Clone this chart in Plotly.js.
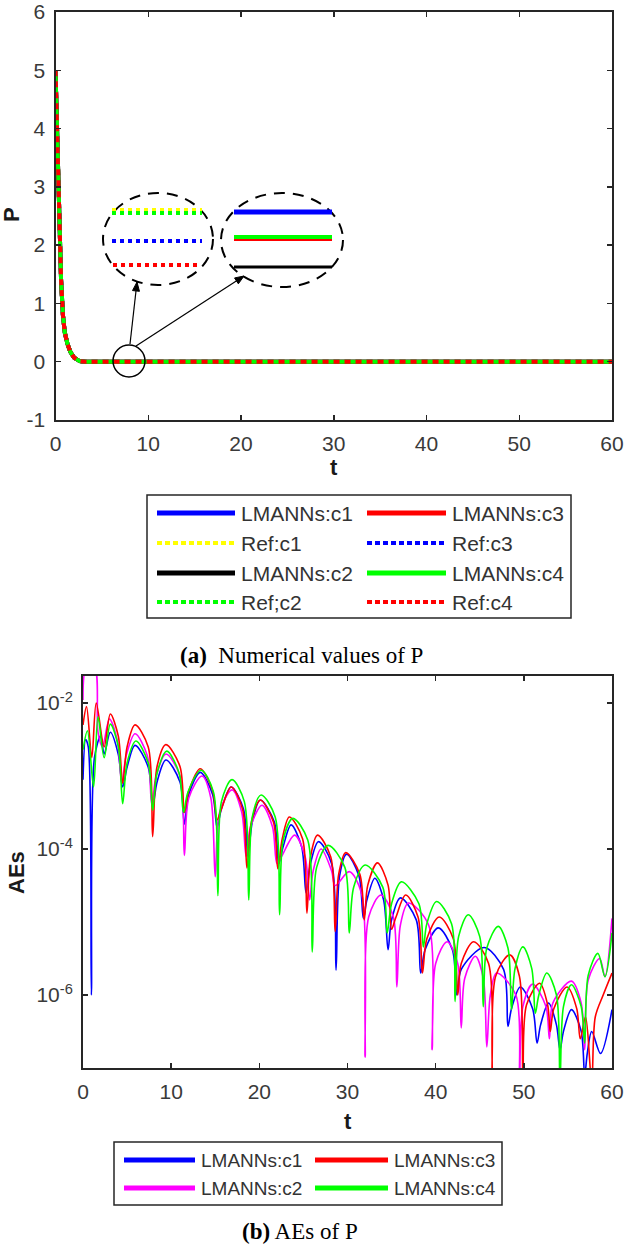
<!DOCTYPE html>
<html>
<head>
<meta charset="utf-8">
<script src="https://cdn.plot.ly/plotly-3.0.1.min.js"></script>
<style>html,body{margin:0;padding:0;background:#fff;}#chart{width:629px;height:1254px;}</style>
</head>
<body>
<div id="chart"></div>
<script>
// ---------- (a) numerical values of P ----------
const tP = [0, 0.15, 0.3, 0.45, 0.6, 0.8, 1.0, 1.3, 1.6, 2.0, 2.6, 3.2, 60];
const pRef = [5, 4.0, 3.0, 2.2, 1.4, 0.8, 0.5, 0.3, 0.17, 0.07, 0.01, 0, 0];
const topNames = ["LMANNs:c1", "Ref:c1", "LMANNs:c2", "Ref;c2", "LMANNs:c3", "Ref:c3", "LMANNs:c4", "Ref:c4"];
const pTickVals = [-1, 0, 1, 2, 3, 4, 5, 6];
const pTickText = ["-1", "0", "1", "2", "3", "4", "5", "6"];

// ---------- (b) absolute errors of P ----------
const tC1 = [0, 0.3, 0.6, 0.95, 1.3, 2.0, 2.4, 3.1, 4.0, 4.5, 5.0, 5.9, 7.4, 7.9, 8.4, 9.4, 11.0, 11.5, 12.0, 13.3, 14.7, 15.2, 15.7, 16.8, 18.2, 18.7, 19.2, 20.1, 21.7, 22.2, 22.7, 23.6, 24.8, 25.3, 25.8, 26.7, 28.2, 28.7, 29.1, 29.9, 31.3, 31.8, 32.2, 33.1, 34.1, 34.6, 35.0, 36.0, 37.8, 38.3, 38.8, 40.3, 41.9, 42.4, 42.9, 45.5, 47.7, 48.2, 48.6, 49.6, 51.0, 51.5, 51.9, 52.8, 53.7, 54.1, 54.5, 55.4, 56.5, 56.9, 57.2, 57.7, 58.7, 60];
const aeC1 = [8.9e-4, 3.16e-3, 2.51e-3, 1.0e-6, 1.78e-3, 3.55e-3, 2.0e-3, 3.98e-3, 1.99e-3, 7.08e-4, 1.32e-3, 2.63e-3, 1.32e-3, 3.8e-4, 8.3e-4, 1.66e-3, 8.3e-4, 2.19e-4, 5.6e-4, 1.12e-3, 5.6e-4, 2.0e-4, 3.54e-4, 7.08e-4, 3.54e-4, 7.94e-5, 2.34e-4, 4.68e-4, 2.34e-4, 6.31e-5, 1.07e-4, 2.14e-4, 1.07e-4, 2.51e-5, 6.3e-5, 1.26e-4, 6.3e-5, 2.19e-6, 4.26e-5, 8.51e-5, 4.26e-5, 1.12e-5, 2.0e-5, 3.98e-5, 2.0e-5, 4.17e-6, 1.07e-5, 2.14e-5, 1.07e-5, 2.0e-6, 4.16e-6, 8.32e-6, 4.16e-6, 1.0e-6, 2.24e-6, 4.47e-6, 2.24e-6, 3.72e-7, 6.5e-7, 1.29e-6, 6.5e-7, 2.19e-7, 3.9e-7, 7.76e-7, 3.9e-7, 1.78e-7, 3.2e-7, 6.31e-7, 3.2e-7, 7.94e-8, 1.6e-7, 3.16e-7, 1.58e-7, 6.31e-7];

const tC2 = [0, 0.4, 1.3, 1.7, 2.2, 3.0, 3.9, 4.4, 4.9, 5.9, 7.3, 7.8, 8.3, 9.4, 11.0, 11.5, 12.0, 13.5, 14.5, 15.0, 15.5, 16.9, 18.0, 18.5, 19.0, 20.3, 21.5, 22.0, 22.5, 24.0, 25.2, 25.7, 26.1, 27.0, 28.2, 28.6, 30.2, 31.6, 32.0, 32.4, 33.8, 35.2, 35.6, 36.0, 36.9, 39.2, 39.6, 40.0, 41.3, 42.5, 42.9, 43.3, 44.5, 45.4, 45.8, 46.2, 46.9, 49.1, 49.5, 49.9, 51.0, 52.5, 52.9, 53.3, 55.4, 56.5, 56.9, 57.3, 58.6, 59.2, 60];
const aeC2 = [1.1e-2, 3.16e-2, 3.16e-2, 3.98e-3, 2.51e-3, 6.03e-3, 3.0e-3, 7.94e-4, 1.9e-3, 3.8e-3, 1.9e-3, 4.07e-4, 1.0e-3, 2.0e-3, 1.0e-3, 8.13e-5, 5.0e-4, 1.0e-3, 5.0e-4, 4.17e-5, 3.2e-4, 6.46e-4, 3.2e-4, 7.94e-5, 2.0e-4, 3.98e-4, 2.0e-4, 6.31e-5, 7.8e-5, 1.55e-4, 7.8e-5, 2.0e-5, 5.0e-5, 1.0e-4, 5.0e-5, 3.16e-5, 4.9e-5, 2.45e-5, 1.41e-7, 1.17e-5, 2.34e-5, 1.17e-5, 1.29e-6, 9.1e-6, 1.82e-5, 9.1e-6, 1.78e-7, 2.7e-6, 5.37e-6, 2.7e-6, 3.55e-7, 1.7e-6, 3.39e-6, 1.7e-6, 1.95e-7, 1.0e-6, 2.0e-6, 1.0e-6, 6.31e-8, 7.0e-7, 1.41e-6, 7.0e-7, 2.51e-7, 7.8e-7, 1.55e-6, 7.8e-7, 1.78e-7, 1.6e-6, 3.16e-6, 1.78e-6, 1.12e-5];

const tC3 = [0, 0.4, 1.0, 1.5, 2.4, 3.1, 4.0, 4.5, 5.0, 5.9, 7.4, 7.9, 8.4, 9.4, 11.0, 11.5, 12.0, 13.3, 14.7, 15.2, 15.7, 16.8, 18.1, 18.6, 19.1, 20.1, 21.6, 22.1, 22.6, 23.4, 24.9, 25.4, 25.8, 26.6, 28.1, 28.6, 29.0, 29.8, 31.4, 31.9, 32.3, 33.4, 34.6, 35.0, 35.5, 36.6, 38.0, 38.5, 39.0, 40.4, 42.0, 42.5, 42.9, 44.3, 46.0, 46.4, 46.8, 48.4, 49.5, 49.9, 50.3, 51.8, 52.7, 53.0, 53.4, 54.9, 56.0, 56.4, 57.0, 57.7, 58.1, 59.0, 60];
const aeC3 = [5.01e-3, 8.91e-3, 1.78e-3, 1.0e-2, 2.51e-3, 7.08e-3, 3.54e-3, 7.94e-4, 2.5e-3, 5.01e-3, 2.5e-3, 1.48e-4, 1.35e-3, 2.69e-3, 1.35e-3, 3.16e-4, 6.3e-4, 1.26e-3, 6.3e-4, 2.51e-4, 3.54e-4, 7.08e-4, 3.54e-4, 5.5e-5, 2.34e-4, 4.68e-4, 2.34e-4, 5.37e-5, 1.38e-4, 2.75e-4, 1.38e-4, 1.32e-5, 7.8e-5, 1.55e-4, 7.8e-5, 7.41e-6, 4.5e-5, 8.91e-5, 4.5e-5, 1.07e-5, 3.2e-5, 6.46e-5, 3.2e-5, 7.94e-6, 1.17e-5, 2.34e-5, 1.17e-5, 2.0e-6, 5.9e-6, 1.17e-5, 5.9e-6, 1.0e-6, 2.7e-6, 5.37e-6, 2.7e-6, 6.31e-8, 1.8e-6, 3.55e-6, 1.8e-6, 6.31e-8, 7.3e-7, 1.45e-6, 7.3e-7, 3.16e-7, 6.5e-7, 1.29e-6, 6.5e-7, 2.51e-7, 5.01e-7, 6.31e-8, 5.0e-7, 1.0e-6, 2.0e-6];

const tC4 = [0, 0.5, 1.2, 1.7, 2.4, 3.1, 4.0, 4.5, 5.0, 6.0, 7.4, 7.9, 8.4, 9.5, 10.9, 11.4, 11.9, 13.4, 14.8, 15.3, 15.7, 16.9, 18.3, 18.8, 19.2, 20.2, 21.8, 22.3, 22.7, 23.8, 25.5, 26.0, 26.5, 27.8, 29.7, 30.2, 30.7, 32.0, 34.0, 34.5, 35.0, 36.1, 38.1, 38.6, 39.0, 40.1, 41.8, 42.2, 42.6, 43.7, 45.0, 45.4, 45.8, 47.1, 48.2, 48.6, 49.0, 49.9, 50.9, 51.3, 51.7, 52.6, 53.7, 54.1, 54.5, 55.4, 56.5, 56.9, 57.3, 58.4, 59.2, 60];
const aeC4 = [2.29e-3, 4.17e-3, 7.08e-4, 6.46e-3, 1.78e-3, 5.13e-3, 2.57e-3, 4.17e-4, 1.51e-3, 3.02e-3, 1.51e-3, 3.39e-4, 1.1e-3, 2.19e-3, 1.1e-3, 3.16e-4, 6.0e-4, 1.2e-3, 6.0e-4, 2.29e-5, 4.46e-4, 8.91e-4, 4.46e-4, 2.0e-5, 2.75e-4, 5.5e-4, 2.75e-4, 1.26e-5, 1.32e-4, 2.63e-4, 1.32e-4, 3.89e-6, 5.6e-5, 1.12e-4, 5.6e-5, 7.08e-6, 3.0e-5, 6.03e-5, 3.0e-5, 7.08e-6, 1.78e-5, 3.55e-5, 1.78e-5, 4.57e-6, 9.5e-6, 1.91e-5, 9.5e-6, 8.13e-7, 6.3e-6, 1.26e-5, 6.3e-6, 6.92e-7, 4.4e-6, 8.71e-6, 4.4e-6, 6.31e-7, 2.3e-6, 4.57e-6, 2.3e-6, 5.62e-7, 1.0e-6, 2.0e-6, 1.0e-6, 6.31e-8, 7.0e-7, 1.38e-6, 7.0e-7, 2.19e-7, 1.86e-6, 3.72e-6, 1.78e-6, 7.08e-6];

const botNames = ["LMANNs:c1", "LMANNs:c2", "LMANNs:c3", "LMANNs:c4"];
const yTickVals = [1e-6, 1e-4, 1e-2];
const yTickText = ["10<sup>-6</sup>", "10<sup>-4</sup>", "10<sup>-2</sup>"];

// ---------- helpers (pixel -> paper; margins are zero) ----------
const W = 629, H = 1254;
const X = p => p / W;
const Y = p => 1 - p / H;

const BLUE = '#0000ff', RED = '#ff0000', GREEN = '#00ff00', BLACK = '#000000', YELLOW = '#ffff00', MAG = '#ff00ff';
const DOT = '6px,5px';

function topTrace(name, color, dash) {
  return {x: tP, y: pRef, name: name, type: 'scatter', mode: 'lines', xaxis: 'x', yaxis: 'y',
          line: {color: color, width: 4, dash: dash}, showlegend: false, hoverinfo: 'skip'};
}
const traces = [
  topTrace(topNames[0], BLUE, 'solid'),
  topTrace(topNames[1], YELLOW, DOT),
  topTrace(topNames[2], BLACK, 'solid'),
  topTrace(topNames[3], GREEN, DOT),
  topTrace(topNames[4], RED, 'solid'),
  topTrace(topNames[5], BLUE, DOT),
  topTrace(topNames[6], GREEN, 'solid'),
  topTrace(topNames[7], RED, DOT)
];

const botSeries = [[tC1, aeC1, BLUE], [tC2, aeC2, MAG], [tC3, aeC3, RED], [tC4, aeC4, GREEN]];
botSeries.forEach((s, i) => {
  traces.push({x: s[0], y: s[1], name: botNames[i], type: 'scatter', mode: 'lines', xaxis: 'x2', yaxis: 'y2',
    line: {color: s[2], width: 1.6, shape: 'spline', smoothing: 0.9}, showlegend: false, hoverinfo: 'skip'});
});

const axisCommon = {
  showline: true, linecolor: '#262626', linewidth: 2, mirror: 'ticks', ticks: 'inside', ticklen: 5,
  tickcolor: '#262626', tickwidth: 1.5, showgrid: false, zeroline: false, ticklabelstandoff: 4,
  ticklabeloverflow: 'allow',
  tickfont: {family: 'Liberation Sans, Arial, sans-serif', size: 21, color: '#3a3a3a'}
};

const shapes = [];
const annotations = [];
function seg(x0, y0, x1, y1, line) {
  shapes.push({type: 'line', xref: 'paper', yref: 'paper', x0: X(x0), y0: Y(y0), x1: X(x1), y1: Y(y1), line: line, layer: 'above'});
}
function ell(x0, y0, x1, y1, line) {
  shapes.push({type: 'circle', xref: 'paper', yref: 'paper', x0: X(x0), y0: Y(y1), x1: X(x1), y1: Y(y0), line: line, layer: 'above'});
}
function arrow(tx, ty, hx, hy) {
  seg(tx, ty, hx, hy, {color: BLACK, width: 1.2});
  const dx = hx - tx, dy = hy - ty, L = Math.hypot(dx, dy), ux = dx / L, uy = dy / L;
  const bx = hx - 9 * ux, by = hy - 9 * uy, px = -uy * 3.5, py = ux * 3.5;
  const pts = [[hx, hy], [bx + px, by + py], [bx - px, by - py]];
  shapes.push({type: 'path', xref: 'paper', yref: 'paper', layer: 'above',
    path: 'M' + pts.map(p => X(p[0]) + ',' + Y(p[1])).join('L') + 'Z', fillcolor: BLACK, line: {color: BLACK, width: 1}});
}

// zoom-in decoration of panel (a)
ell(113, 345, 145, 377, {color: BLACK, width: 1.5});
ell(103, 193, 213, 285, {color: BLACK, width: 2, dash: '11px,8px'});
ell(221, 193, 343, 287, {color: BLACK, width: 2, dash: '11px,8px'});
seg(112, 210, 202, 210, {color: YELLOW, width: 4, dash: '4px,4px'});
seg(112, 213, 202, 213, {color: GREEN, width: 4, dash: '4px,4px'});
seg(112, 241, 202, 241, {color: BLUE, width: 4, dash: '4px,4px'});
seg(113, 265, 198, 265, {color: RED, width: 4, dash: '4px,4px'});
seg(234, 212, 332, 212, {color: BLUE, width: 5});
seg(234, 237, 332, 237, {color: GREEN, width: 4});
seg(234, 240, 332, 240, {color: RED, width: 2});
seg(234, 267, 332, 267, {color: BLACK, width: 3});
arrow(130, 344, 137, 282);
arrow(136, 346, 244, 276);

// legends (drawn as boxed key, two columns)
const legFontA = {family: 'Liberation Sans, Arial, sans-serif', size: 21, color: '#333'};
const legFontB = {family: 'Liberation Sans, Arial, sans-serif', size: 19, color: '#333'};
function legendBox(x0, y0, x1, y1) {
  shapes.push({type: 'rect', xref: 'paper', yref: 'paper', x0: X(x0), y0: Y(y1), x1: X(x1), y1: Y(y0),
    line: {color: '#262626', width: 1.5}, fillcolor: 'rgba(0,0,0,0)', layer: 'above'});
}
function legendItem(lx0, lx1, y, color, dash, width, label, font) {
  seg(lx0, y, lx1, y, {color: color, width: width, dash: dash});
  annotations.push({xref: 'paper', yref: 'paper', x: X(lx1 + 4), y: Y(y), text: label, showarrow: false,
    xanchor: 'left', yanchor: 'middle', font: font});
}
legendBox(147, 495, 571, 618);
legendItem(157, 235, 513, BLUE, 'solid', 5, topNames[0], legFontA);
legendItem(367, 446, 513, RED, 'solid', 5, topNames[4], legFontA);
legendItem(157, 235, 543, YELLOW, '5px,3px', 4, topNames[1], legFontA);
legendItem(367, 446, 543, BLUE, '5px,3px', 4, topNames[5], legFontA);
legendItem(157, 235, 573, BLACK, 'solid', 5, topNames[2], legFontA);
legendItem(367, 446, 573, GREEN, 'solid', 5, topNames[6], legFontA);
legendItem(157, 235, 602, GREEN, '5px,3px', 4, topNames[3], legFontA);
legendItem(367, 446, 602, RED, '5px,3px', 4, topNames[7], legFontA);

legendBox(114, 1142, 502, 1205);
legendItem(124, 195, 1160, BLUE, 'solid', 5, botNames[0], legFontB);
legendItem(315, 388, 1160, RED, 'solid', 5, botNames[2], legFontB);
legendItem(124, 195, 1188, MAG, 'solid', 5, botNames[1], legFontB);
legendItem(315, 388, 1188, GREEN, 'solid', 5, botNames[3], legFontB);

// axis labels and captions
const capFont = {family: 'Liberation Serif, Times New Roman, serif', size: 23, color: '#000'};
const lblFont = {family: 'Liberation Sans, Arial, sans-serif', size: 22, color: '#1a1a1a'};
annotations.push(
  {xref: 'paper', yref: 'paper', x: X(334), y: Y(468), text: '<b>t</b>', showarrow: false, font: lblFont, xanchor: 'center', yanchor: 'middle'},
  {xref: 'paper', yref: 'paper', x: X(12), y: Y(215), text: '<b>P</b>', showarrow: false, font: lblFont, textangle: -90, xanchor: 'center', yanchor: 'middle'},
  {xref: 'paper', yref: 'paper', x: X(348), y: Y(1121), text: '<b>t</b>', showarrow: false, font: lblFont, xanchor: 'center', yanchor: 'middle'},
  {xref: 'paper', yref: 'paper', x: X(16), y: Y(873), text: '<b>AEs</b>', showarrow: false, font: lblFont, textangle: -90, xanchor: 'center', yanchor: 'middle'},
  {xref: 'paper', yref: 'paper', x: X(301), y: Y(655), text: '<b>(a)</b>  Numerical values of P', showarrow: false, font: capFont, xanchor: 'center', yanchor: 'middle'},
  {xref: 'paper', yref: 'paper', x: X(300), y: Y(1231), text: '<b>(b)</b> AEs of P', showarrow: false, font: capFont, xanchor: 'center', yanchor: 'middle'}
);

const layout = {
  width: W, height: H, margin: {l: 0, r: 0, t: 0, b: 0},
  paper_bgcolor: '#fff', plot_bgcolor: '#fff', showlegend: false,
  xaxis: Object.assign({}, axisCommon, {domain: [X(55.5), X(612)], range: [0, 60], dtick: 10, anchor: 'y'}),
  yaxis: Object.assign({}, axisCommon, {domain: [Y(420), Y(12)], range: [-1.0001, 6.0001], tickvals: pTickVals, ticktext: pTickText, anchor: 'x'}),
  xaxis2: Object.assign({}, axisCommon, {domain: [X(83), X(612)], range: [0, 60], dtick: 10, anchor: 'y2'}),
  yaxis2: Object.assign({}, axisCommon, {domain: [Y(1068), Y(676)], type: 'log', range: [-7, -1.63],
            tickvals: yTickVals, ticktext: yTickText, anchor: 'x2'}),
  shapes: shapes,
  annotations: annotations
};

Plotly.newPlot('chart', traces, layout, {staticPlot: true, displayModeBar: false});
</script>
</body>
</html>
